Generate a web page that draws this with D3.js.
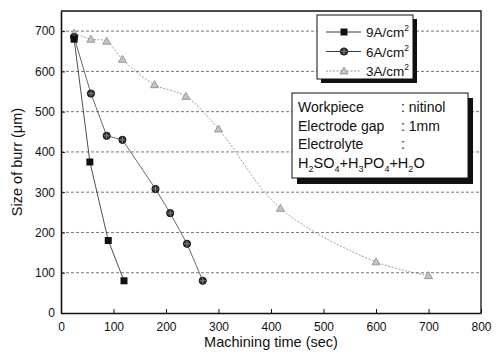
<!DOCTYPE html>
<html>
<head>
<meta charset="utf-8">
<script src="https://cdn.jsdelivr.net/npm/d3@7"></script>
<style>
body { margin: 0; background: #fff; }
text { font-family: "Liberation Sans", Arial, sans-serif; }
</style>
</head>
<body>
<script>
// burr size vs machining time, one series per current density
var series9 = [[25, 680], [55, 375], [90, 180], [120, 80]];
var series6 = [[25, 685], [57, 545], [87, 440], [117, 430], [180, 308], [208, 248], [240, 172], [270, 80]];
var series3 = [[25, 695], [57, 680], [87, 675], [117, 630], [178, 567], [238, 538], [300, 457], [418, 260], [600, 127], [700, 93]];
var xTicks = [0, 100, 200, 300, 400, 500, 600, 700, 800];
var yTicks = [0, 100, 200, 300, 400, 500, 600, 700];
var legendLabels = ["9A/cm", "6A/cm", "3A/cm"];

var width = 498, height = 354;
var margin = {left: 61, right: 17, top: 11, bottom: 41};

var svg = d3.select("body").append("svg").attr("width", width).attr("height", height);

var x = d3.scaleLinear().domain([0, 800]).range([margin.left, width - margin.right]);
var y = d3.scaleLinear().domain([0, 750]).range([height - margin.bottom, margin.top]);

// dashed grid
svg.append("g").selectAll("line")
    .data(yTicks.filter(function (d) { return d > 0; }))
    .enter().append("line")
    .attr("x1", x(0)).attr("x2", x(800))
    .attr("y1", function (d) { return y(d); })
    .attr("y2", function (d) { return y(d); })
    .attr("stroke", "#555")
    .attr("stroke-width", 0.8)
    .attr("stroke-dasharray", "3,2");

var xAxis = svg.append("g")
    .attr("transform", "translate(0," + y(0) + ")")
    .call(d3.axisBottom(x).tickValues(xTicks).tickSizeInner(-4).tickSizeOuter(0).tickPadding(9));
var yAxis = svg.append("g")
    .attr("transform", "translate(" + x(0) + ",0)")
    .call(d3.axisLeft(y).tickValues(yTicks).tickSizeInner(-4).tickSizeOuter(0).tickPadding(6));
[xAxis, yAxis].forEach(function (a) {
    a.selectAll("text").style("font-size", "12px").attr("fill", "#111");
    a.selectAll("line").attr("stroke", "#111");
    a.select(".domain").attr("stroke", "#111").attr("stroke-width", 1.6);
});

// top and right frame
svg.append("path")
    .attr("d", "M" + x(0) + "," + y(750) + "H" + x(800) + "V" + y(0))
    .attr("fill", "none").attr("stroke", "#111").attr("stroke-width", 1.3);

var line = d3.line().x(function (d) { return x(d[0]); }).y(function (d) { return y(d[1]); });
var curve = d3.line().curve(d3.curveCatmullRom).x(function (d) { return x(d[0]); }).y(function (d) { return y(d[1]); });

svg.append("path").datum(series3).attr("d", curve)
    .attr("fill", "none").attr("stroke", "#888").attr("stroke-width", 0.8).attr("stroke-dasharray", "2,1.5");
svg.append("path").datum(series6).attr("d", line)
    .attr("fill", "none").attr("stroke", "#444").attr("stroke-width", 0.8);
svg.append("path").datum(series9).attr("d", line)
    .attr("fill", "none").attr("stroke", "#222").attr("stroke-width", 0.8);

function triangle(g, cx, cy) {
    g.append("path")
        .attr("d", "M" + cx + "," + (cy - 4) + "L" + (cx + 4) + "," + (cy + 3) + "L" + (cx - 4) + "," + (cy + 3) + "Z")
        .attr("fill", "#c4c4c4").attr("stroke", "#888").attr("stroke-width", 0.8);
}
function circleMark(g, cx, cy) {
    g.append("circle").attr("cx", cx).attr("cy", cy).attr("r", 3.6)
        .attr("fill", "#333").attr("stroke", "#111");
    g.append("path").attr("d", "M" + (cx - 3) + "," + cy + "H" + (cx + 3) + "M" + cx + "," + (cy - 3) + "V" + (cy + 3))
        .attr("stroke", "#999").attr("stroke-width", 0.7);
}
function squareMark(g, cx, cy) {
    g.append("rect").attr("x", cx - 3.5).attr("y", cy - 3.5).attr("width", 7).attr("height", 7).attr("fill", "#111");
}

var marks = svg.append("g");
series3.forEach(function (d) { triangle(marks, x(d[0]), y(d[1])); });
series6.forEach(function (d) { circleMark(marks, x(d[0]), y(d[1])); });
series9.forEach(function (d) { squareMark(marks, x(d[0]), y(d[1])); });

// axis titles
svg.append("text").attr("x", (x(0) + x(800)) / 2).attr("y", 347)
    .attr("text-anchor", "middle").style("font-size", "14.5px").attr("fill", "#111")
    .text("Machining time (sec)");
svg.append("text").attr("transform", "translate(22," + y(375) + ") rotate(-90)")
    .attr("text-anchor", "middle").style("font-size", "14.5px").attr("fill", "#111")
    .text("Size of burr (\u03bcm)");

// legend box with shadow
var lg = svg.append("g");
lg.append("rect").attr("x", 321).attr("y", 19).attr("width", 96).attr("height", 64).attr("fill", "#111");
lg.append("rect").attr("x", 317).attr("y", 15).attr("width", 96).attr("height", 64)
    .attr("fill", "#fff").attr("stroke", "#111").attr("stroke-width", 1);
var markers = [squareMark, circleMark, triangle];
legendLabels.forEach(function (lab, i) {
    var ly = 32 + i * 19.5;
    lg.append("line").attr("x1", 326).attr("x2", 361).attr("y1", ly).attr("y2", ly)
        .attr("stroke", i === 2 ? "#888" : "#222").attr("stroke-width", 0.9)
        .attr("stroke-dasharray", i === 2 ? "2,1.5" : null);
    markers[i](lg, 344, ly);
    var t = lg.append("text").attr("x", 366).attr("y", ly + 5).style("font-size", "13.5px").attr("fill", "#111");
    t.append("tspan").text(lab);
    t.append("tspan").attr("dy", -6).style("font-size", "8.5px").text("2");
});

// condition box with shadow
var ib = svg.append("g");
ib.append("rect").attr("x", 297).attr("y", 98).attr("width", 176).attr("height", 86).attr("fill", "#111");
ib.append("rect").attr("x", 292).attr("y", 93).attr("width", 176).attr("height", 85)
    .attr("fill", "#fff").attr("stroke", "#111").attr("stroke-width", 1);
var infoLeft = ["Workpiece", "Electrode gap", "Electrolyte"];
var infoRight = [": nitinol", ": 1mm", ":"];
infoLeft.forEach(function (s, i) {
    var ty = 112 + i * 18.5;
    ib.append("text").attr("x", 298).attr("y", ty).style("font-size", "14px").attr("fill", "#111").text(s);
    ib.append("text").attr("x", 401).attr("y", ty).style("font-size", "14px").attr("fill", "#111").text(infoRight[i]);
});
var formula = [["H", ""], ["2", "sub"], ["SO", ""], ["4", "sub"], ["+H", ""], ["3", "sub"], ["PO", ""], ["4", "sub"], ["+H", ""], ["2", "sub"], ["O", ""]];
var ft = ib.append("text").attr("x", 298).attr("y", 168).style("font-size", "14.5px").attr("fill", "#111");
var prevSub = false;
formula.forEach(function (p) {
    var sub = p[1] === "sub";
    var ts = ft.append("tspan").text(p[0]);
    if (sub) ts.attr("dy", 4).style("font-size", "9px");
    else if (prevSub) ts.attr("dy", -4);
    prevSub = sub;
});
</script>
</body>
</html>
